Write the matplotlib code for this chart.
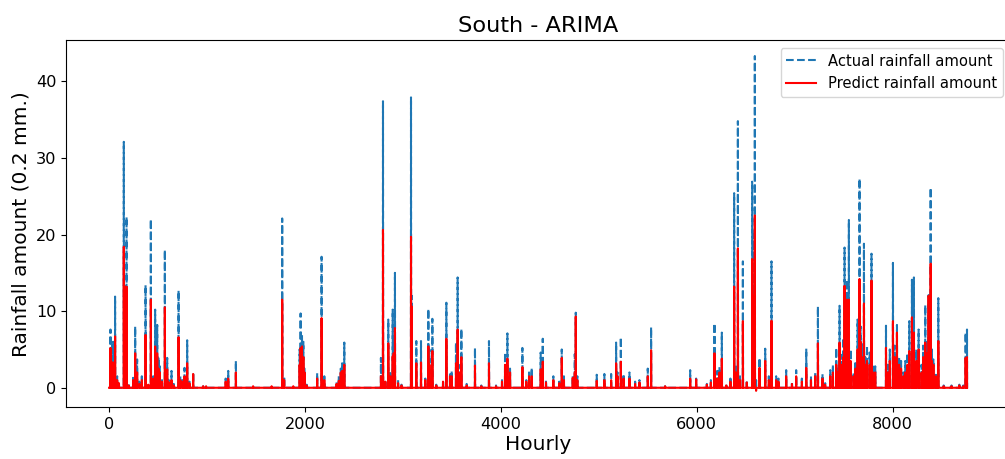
import numpy as np
import matplotlib
matplotlib.use("Agg")
import matplotlib.pyplot as plt

# ---- data ----
n_hours = 8760
event_hours = [
    14, 30, 41, 61, 82, 100, 150, 165, 178, 200, 245, 266, 286, 310, 334, 372, 400, 426, 450,
    470, 481, 491, 505, 518, 540, 569, 593, 610, 637, 660, 709, 727, 750, 770, 797, 820, 858,
    960, 990, 1190, 1216, 1294, 1470, 1659, 1767, 1787, 1880, 1945, 1955, 1969, 1983, 1995,
    2017, 2124, 2169, 2197, 2322, 2345, 2365, 2379, 2401, 2775, 2796, 2820, 2850, 2870, 2895,
    2905, 2918, 2950, 2985, 3082, 3090, 3136, 3184, 3228, 3259, 3270, 3300, 3340, 3409, 3443,
    3480, 3497, 3541, 3558, 3570, 3596, 3650, 3735, 3800, 3878, 3950, 4011, 4042, 4066, 4093,
    4219, 4259, 4287, 4314, 4406, 4427, 4460, 4535, 4595, 4621, 4643, 4733, 4754, 4764, 4780,
    4978, 5056, 5125, 5176, 5190, 5224, 5252, 5312, 5370, 5414, 5499, 5533, 5676, 5932, 5993,
    6102, 6143, 6180, 6208, 6231, 6255, 6301, 6343, 6381, 6400, 6419, 6441, 6470, 6510, 6565,
    6579, 6592, 6605, 6640, 6698, 6735, 6762, 6810, 6833, 6912, 6971, 7014, 7072, 7117, 7165,
    7208, 7236, 7283, 7310, 7362, 7389, 7423, 7440, 7457, 7481, 7495, 7508, 7520, 7532, 7552,
    7570, 7600, 7620, 7641, 7661, 7672, 7685, 7706, 7720, 7737, 7764, 7783, 7800, 7821, 7931,
    7952, 7970, 8002, 8020, 8043, 8065, 8085, 8110, 8128, 8150, 8169, 8196, 8216, 8240, 8264,
    8294, 8310, 8332, 8350, 8366, 8387, 8400, 8415, 8440, 8465, 8520, 8600, 8680, 8720, 8744,
    8758,
]
actual_peaks = [
    7.6, 5.8, 6.0, 11.9, 1.5, 0.8, 32.1, 13.5, 22.3, 0.5, 1.3, 8.0, 3.7, 0.8, 1.5, 13.4, 0.6, 22.0, 1.5,
    10.2, 7.0, 8.2, 4.0, 2.8, 1.0, 18.0, 3.9, 1.0, 2.2, 0.5, 12.7, 1.5, 1.0, 2.6, 6.2, 0.8, 2.0,
    0.2, 0.2, 1.2, 2.2, 3.5, 0.3, 0.2, 22.1, 1.5, 0.3, 5.0, 9.7, 6.9, 6.0, 2.5,
    0.4, 1.9, 17.1, 1.5, 0.7, 1.5, 2.5, 3.2, 5.9, 3.9, 37.4, 1.0, 8.9, 2.2, 10.2,
    6.0, 15.0, 1.0, 0.4, 37.9, 12.0, 6.1, 6.1, 1.2, 10.3, 5.0, 9.0, 0.4, 1.0, 11.1,
    2.0, 2.2, 5.9, 14.4, 3.0, 7.7, 0.5, 5.2, 0.3, 6.1, 0.3, 1.0, 4.6, 7.1, 2.5,
    5.2, 1.0, 2.0, 2.6, 4.6, 6.4, 1.0, 1.5, 0.8, 5.0, 1.5, 1.5, 4.4, 9.8, 1.5,
    1.7, 1.8, 1.8, 5.9, 2.0, 6.6, 1.8, 2.0, 0.8, 1.0, 2.5, 7.9, 0.2, 2.3, 1.2,
    0.5, 1.0, 8.4, 2.2, 2.7, 7.2, 0.5, 1.2, 25.4, 3.0, 34.8, 1.5, 16.5, 1.0, 26.9,
    20.0, 43.3, 1.0, 3.9, 5.1, 1.5, 16.5, 1.5, 1.2, 2.3, 0.8, 2.3, 1.2, 5.1, 1.5,
    2.0, 10.6, 1.8, 0.6, 2.3, 3.0, 5.2, 2.5, 10.7, 4.3, 6.5, 18.3, 8.0, 14.1, 21.9,
    5.0, 2.0, 3.5, 8.9, 27.3, 8.0, 5.7, 18.8, 4.0, 5.5, 4.6, 17.5, 3.0, 2.8, 8.1,
    3.0, 5.0, 16.3, 5.5, 8.2, 4.0, 3.5, 2.0, 3.5, 4.5, 8.7, 14.1, 14.4, 5.0, 7.6,
    3.0, 5.5, 10.8, 6.0, 12.1, 26.1, 5.0, 3.7, 2.0, 11.7, 0.3, 0.3, 0.4, 0.3, 7.2,
    7.6,
]
predicted_peaks = [
    5.2, 3.3, 3.3, 6.7, 1.0, 0.6, 18.4, 13.2, 13.2, 0.3, 1.0, 4.5, 2.0, 0.5, 1.0, 6.9, 0.4, 11.5, 1.2,
    5.4, 4.0, 4.5, 2.5, 2.0, 0.8, 10.5, 2.4, 0.7, 1.0, 0.3, 6.6, 1.0, 0.8, 1.5, 3.2, 0.6, 1.8,
    0.2, 0.2, 0.8, 1.2, 2.0, 0.2, 0.2, 11.5, 1.0, 0.2, 3.0, 5.2, 5.4, 4.0, 2.0,
    0.3, 1.2, 9.1, 1.0, 0.5, 0.9, 2.0, 2.2, 3.0, 1.5, 20.6, 0.8, 5.8, 1.5, 4.1,
    4.5, 7.8, 0.6, 0.3, 19.7, 10.6, 3.2, 3.3, 1.0, 5.4, 3.0, 4.8, 0.3, 0.8, 6.4,
    1.5, 1.5, 3.2, 7.6, 2.0, 4.0, 0.3, 2.9, 0.2, 3.2, 0.2, 0.8, 3.0, 3.8, 2.0,
    2.7, 0.8, 1.5, 1.5, 2.4, 3.4, 0.7, 1.0, 0.6, 3.9, 1.0, 1.3, 2.0, 9.3, 1.0,
    0.9, 1.0, 1.0, 3.2, 1.5, 3.4, 1.2, 1.2, 0.5, 0.7, 1.5, 4.9, 0.2, 1.2, 1.1,
    0.4, 0.7, 4.5, 1.2, 2.0, 3.8, 0.3, 0.8, 13.2, 2.0, 18.2, 1.0, 8.7, 0.7, 16.8,
    12.0, 22.5, -0.4, 2.6, 3.5, 1.0, 8.75, 1.0, 0.8, 1.5, 0.5, 1.5, 0.8, 2.6, 1.0,
    1.5, 5.8, 1.2, 0.4, 1.5, 2.0, 3.0, 2.0, 5.9, 3.0, 4.0, 13.3, 6.0, 11.5, 11.5,
    3.5, 1.5, 2.5, 5.0, 14.2, 6.0, 4.0, 11.0, 3.0, 3.5, 3.0, 14.0, 2.0, 2.0, 5.2,
    2.0, 3.5, 8.7, 4.0, 7.2, 3.0, 2.5, 1.5, 2.0, 3.0, 4.8, 9.2, 7.2, 3.5, 5.0,
    2.0, 4.0, 5.9, 4.5, 12.0, 16.2, 3.5, 3.0, 1.5, 6.1, 0.2, 0.2, 0.3, 0.2, 3.9,
    4.0,
]
x_ticks = [0, 2000, 4000, 6000, 8000]
y_ticks = [0, 10, 20, 30, 40]

# ---- build series ----
hours = np.arange(n_hours)
actual = np.zeros(n_hours)
predicted = np.zeros(n_hours)
actual[event_hours] = actual_peaks
predicted[event_hours] = predicted_peaks

# ---- figure ----
fig = plt.figure(figsize=(10.05, 4.59), dpi=100)
ax = fig.add_axes([66.3 / 1005, (459 - 407.3) / 459, (1010 - 66.3) / 1005, 367.0 / 459])

ax.plot(hours, actual, linestyle="--", color="#1f77b4", linewidth=1.5, label="Actual rainfall amount")
ax.plot(hours, predicted, linestyle="-", color="red", linewidth=1.5, label="Predict rainfall amount")

ax.set_xlim(-437, 9197)
ax.set_ylim(-2.55, 45.35)
ax.set_xticks(x_ticks)
ax.set_yticks(y_ticks)
ax.tick_params(axis="both", labelsize=11.6)

ax.set_title("South - ARIMA", fontsize=16.2)
ax.set_xlabel("Hourly", fontsize=14.5, labelpad=2)
ax.set_ylabel("Rainfall amount (0.2 mm.)", fontsize=14.5)
ax.legend(loc="upper right", fontsize=10.6)

fig.savefig("out.png", dpi=100)
